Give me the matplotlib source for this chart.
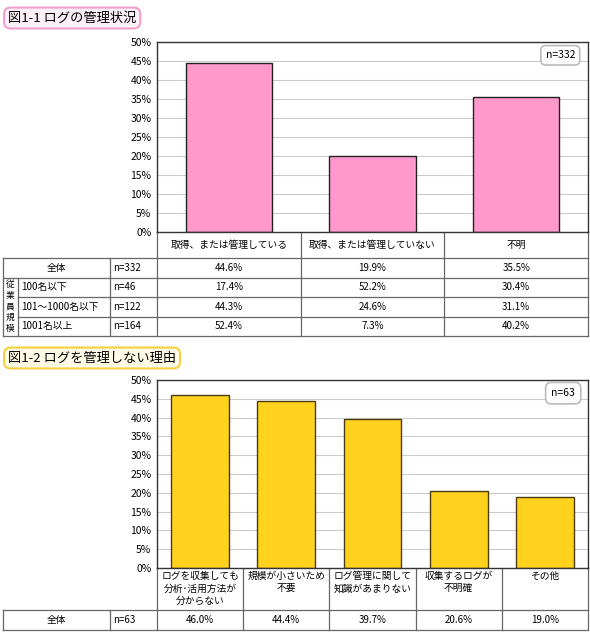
import matplotlib.pyplot as plt
import numpy as np

plt.rcParams['font.family'] = ['Noto Sans CJK JP', 'DejaVu Sans']

# 図1-1 data
cats1 = ['取得、または管理している', '取得、または管理していない', '不明']
rows1 = ['全体', '100名以下', '101～1000名以下', '1001名以上']
n1 = [332, 46, 122, 164]
vals1 = [[44.6, 19.9, 35.5],
         [17.4, 52.2, 30.4],
         [44.3, 24.6, 31.1],
         [52.4, 7.3, 40.2]]
group_label = '従業員規模'

# 図1-2 data
cats2 = ['ログを収集しても\n分析･活用方法が\n分からない', '規模が小さいため\n不要',
         'ログ管理に関して\n知識があまりない', '収集するログが\n不明確', 'その他']
n2 = 63
vals2 = [46.0, 44.4, 39.7, 20.6, 19.0]

W, H = 590, 638
fig = plt.figure(figsize=(W / 100, H / 100), dpi=100)

# overlay in pixel coordinates for the tables and titles
ov = fig.add_axes([0, 0, 1, 1])
ov.set_xlim(0, W)
ov.set_ylim(H, 0)
ov.axis('off')

grid_c = '#666666'
fs = 7


def hline(y, x0, x1):
    ov.plot([x0, x1], [y, y], color=grid_c, lw=0.9, zorder=1)


def vline(x, y0, y1):
    ov.plot([x, x], [y0, y1], color=grid_c, lw=0.9, zorder=1)


def bar_axes(top, bottom):
    ax = fig.add_axes([157 / W, 1 - bottom / H, 431 / W, (bottom - top) / H])
    ax.set_ylim(0, 50)
    ax.set_yticks(np.arange(0, 51, 5))
    ax.set_yticklabels([f'{v}%' for v in range(0, 51, 5)], fontsize=7.5)
    ax.tick_params(axis='y', length=0, pad=4)
    ax.set_xticks([])
    ax.grid(axis='y', color='#cccccc', lw=0.8)
    ax.set_axisbelow(True)
    for s in ax.spines.values():
        s.set_color('#333333')
        s.set_linewidth(1.0)
    return ax


# ---- chart 1 ----
ov.text(8, 18, '図1-1 ログの管理状況', fontsize=9.5, va='center', ha='left',
        bbox=dict(boxstyle='round,pad=0.3,rounding_size=0.5', fc='#fdf0f6', ec='#f0a0cc', lw=1.5))

ax1 = bar_axes(42, 232)
x1 = np.arange(len(cats1))
ax1.bar(x1, vals1[0], width=0.6, color='#ff99cc', edgecolor='#222222', lw=1.0)
ax1.set_xlim(-0.5, len(cats1) - 0.5)
ax1.text(0.97, 0.93, f'n={n1[0]}', transform=ax1.transAxes, ha='right', va='center', fontsize=7.5,
         bbox=dict(boxstyle='round,pad=0.45', fc='white', ec='#bbbbbb', lw=1.2))

# table 1
col_w1 = 431 / len(cats1)
hdr_top, hdr_bot = 232, 258
row_h = 19.5
row_edges = [hdr_bot + i * row_h for i in range(len(rows1) + 1)]
hline(hdr_bot, 3, 588)
for y in row_edges[1:]:
    hline(y, 3 if y in (row_edges[1], row_edges[-1]) else 18, 588)
vline(3, hdr_bot, row_edges[-1])
vline(18, row_edges[1], row_edges[-1])
vline(110, hdr_bot, row_edges[-1])
for j in range(len(cats1) + 1):
    vline(157 + j * col_w1, hdr_top, row_edges[-1])
for j, c in enumerate(cats1):
    ov.text(157 + (j + 0.5) * col_w1, (hdr_top + hdr_bot) / 2, c, fontsize=fs, ha='center', va='center')
for i, r in enumerate(rows1):
    yc = (row_edges[i] + row_edges[i + 1]) / 2
    if i == 0:
        ov.text(56, yc, r, fontsize=fs, ha='center', va='center')
    else:
        ov.text(21, yc, r, fontsize=fs, ha='left', va='center')
    ov.text(113, yc, f'n={n1[i]}', fontsize=fs, ha='left', va='center')
    for j, v in enumerate(vals1[i]):
        ov.text(157 + (j + 0.5) * col_w1, yc, f'{v:.1f}%', fontsize=fs, ha='center', va='center')
# vertical group label, one character per line
g_top, g_bot = row_edges[1], row_edges[-1]
step = (g_bot - g_top - 4) / len(group_label)
for k, ch in enumerate(group_label):
    ov.text(10.5, g_top + 2 + (k + 0.5) * step, ch, fontsize=6.3, ha='center', va='center')

# ---- chart 2 ----
ov.text(8, 358, '図1-2 ログを管理しない理由', fontsize=9.5, va='center', ha='left',
        bbox=dict(boxstyle='round,pad=0.3,rounding_size=0.5', fc='#fffbe6', ec='#f5d040', lw=1.5))

ax2 = bar_axes(380, 568)
x2 = np.arange(len(cats2))
ax2.bar(x2, vals2, width=0.67, color='#ffd21e', edgecolor='#4a3c10', lw=1.0)
ax2.set_xlim(-0.5, len(cats2) - 0.5)
ax2.text(0.97, 0.93, f'n={n2}', transform=ax2.transAxes, ha='right', va='center', fontsize=7.5,
         bbox=dict(boxstyle='round,pad=0.55', fc='white', ec='#bbbbbb', lw=1.2))

# table 2
col_w2 = 431 / len(cats2)
h2_top, h2_bot, r2_bot = 568, 610, 630
hline(h2_bot, 3, 588)
hline(r2_bot, 3, 588)
vline(3, h2_bot, r2_bot)
vline(110, h2_bot, r2_bot)
for j in range(len(cats2) + 1):
    vline(157 + j * col_w2, h2_top, r2_bot)
for j, c in enumerate(cats2):
    ov.text(157 + (j + 0.5) * col_w2, h2_top + 3, c, fontsize=fs, ha='center', va='top', linespacing=1.3)
yc = (h2_bot + r2_bot) / 2
ov.text(56, yc, '全体', fontsize=fs, ha='center', va='center')
ov.text(113, yc, f'n={n2}', fontsize=fs, ha='left', va='center')
for j, v in enumerate(vals2):
    ov.text(157 + (j + 0.5) * col_w2, yc, f'{v:.1f}%', fontsize=fs, ha='center', va='center')

fig.savefig('out.png', dpi=100)
